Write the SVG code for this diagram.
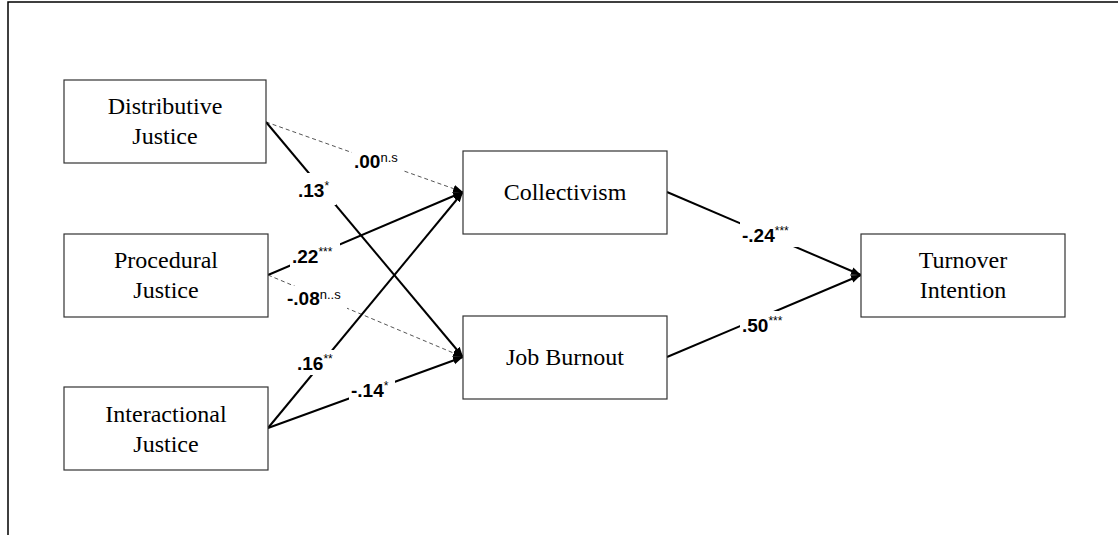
<svg xmlns="http://www.w3.org/2000/svg" width="1118" height="535" viewBox="0 0 1118 535">
<defs>
<style>
.box{fill:#fff;stroke:#333;stroke-width:1.2}
.nt{font-family:"Liberation Serif","Times New Roman",serif;font-size:24px;fill:#000;text-anchor:middle}
.s{fill:none;stroke:#000;stroke-width:2}
.d{fill:none;stroke:#555;stroke-width:1;stroke-dasharray:4 3}
.lb{font-family:"Liberation Sans",Arial,sans-serif;font-size:19px;font-weight:bold;fill:#000}
.sup{font-size:12px;font-weight:normal}
.ns{font-size:13px;font-weight:normal}
.bg{fill:#fff}
</style>
<marker id="ah" viewBox="0 0 10 10" refX="10" refY="5" markerWidth="10" markerHeight="10" markerUnits="userSpaceOnUse" orient="auto">
<path d="M0,1 L10,5 L0,9 z" fill="#000"/>
</marker>
</defs>
<rect width="1118" height="535" fill="#fff"/>
<path d="M8,535 V2 H1118" fill="none" stroke="#000" stroke-width="1.5"/>
<g id="connectors">
<line class="d" x1="266" y1="122" x2="463" y2="192" marker-end="url(#ah)"/>
<line class="s" x1="266" y1="122" x2="463" y2="357" marker-end="url(#ah)"/>
<line class="s" x1="268" y1="275" x2="463" y2="192" marker-end="url(#ah)"/>
<line class="d" x1="268" y1="275" x2="463" y2="357" marker-end="url(#ah)"/>
<line class="s" x1="268" y1="428" x2="463" y2="192" marker-end="url(#ah)"/>
<line class="s" x1="268" y1="428" x2="463" y2="357" marker-end="url(#ah)"/>
<line class="s" x1="667" y1="192" x2="861" y2="275" marker-end="url(#ah)"/>
<line class="s" x1="667" y1="357" x2="861" y2="275" marker-end="url(#ah)"/>
<g id="labels">
<rect class="bg" x="296" y="173" width="40" height="32"/>
<text class="lb" x="298" y="197">.13<tspan class="sup" dy="-7">*</tspan></text>
<rect class="bg" x="352" y="150" width="52" height="23"/>
<text class="lb" x="354" y="168">.00<tspan class="ns" dy="-6">n.s</tspan></text>
<rect class="bg" x="290" y="243" width="50" height="25"/>
<text class="lb" x="292" y="263">.22<tspan class="sup" dy="-7">***</tspan></text>
<rect class="bg" x="285" y="286" width="62" height="24"/>
<text class="lb" x="287" y="305">-.08<tspan class="ns" dy="-6">n..s</tspan></text>
<rect class="bg" x="295" y="350" width="46" height="25"/>
<text class="lb" x="297" y="370">.16<tspan class="sup" dy="-7">**</tspan></text>
<rect class="bg" x="349" y="376" width="46" height="25"/>
<text class="lb" x="351" y="397">-.14<tspan class="sup" dy="-7">*</tspan></text>
<rect class="bg" x="740" y="221" width="60" height="26"/>
<text class="lb" x="742" y="242">-.24<tspan class="sup" dy="-7">***</tspan></text>
<rect class="bg" x="740" y="311" width="52" height="26"/>
<text class="lb" x="742" y="332">.50<tspan class="sup" dy="-7">***</tspan></text>
</g>
</g>
<g id="distributive">
<rect class="box" x="64" y="80" width="202" height="83"/>
<text class="nt" x="165" y="114">Distributive</text>
<text class="nt" x="165" y="144">Justice</text>
</g>
<g id="procedural">
<rect class="box" x="64" y="234" width="204" height="83"/>
<text class="nt" x="166" y="268">Procedural</text>
<text class="nt" x="166" y="298">Justice</text>
</g>
<g id="interactional">
<rect class="box" x="64" y="387" width="204" height="83"/>
<text class="nt" x="166" y="422">Interactional</text>
<text class="nt" x="166" y="452">Justice</text>
</g>
<g id="collectivism">
<rect class="box" x="463" y="151" width="204" height="83"/>
<text class="nt" x="565" y="200">Collectivism</text>
</g>
<g id="burnout">
<rect class="box" x="463" y="316" width="204" height="83"/>
<text class="nt" x="565" y="365">Job Burnout</text>
</g>
<g id="turnover">
<rect class="box" x="861" y="234" width="204" height="83"/>
<text class="nt" x="963" y="268">Turnover</text>
<text class="nt" x="963" y="298">Intention</text>
</g>
</svg>
